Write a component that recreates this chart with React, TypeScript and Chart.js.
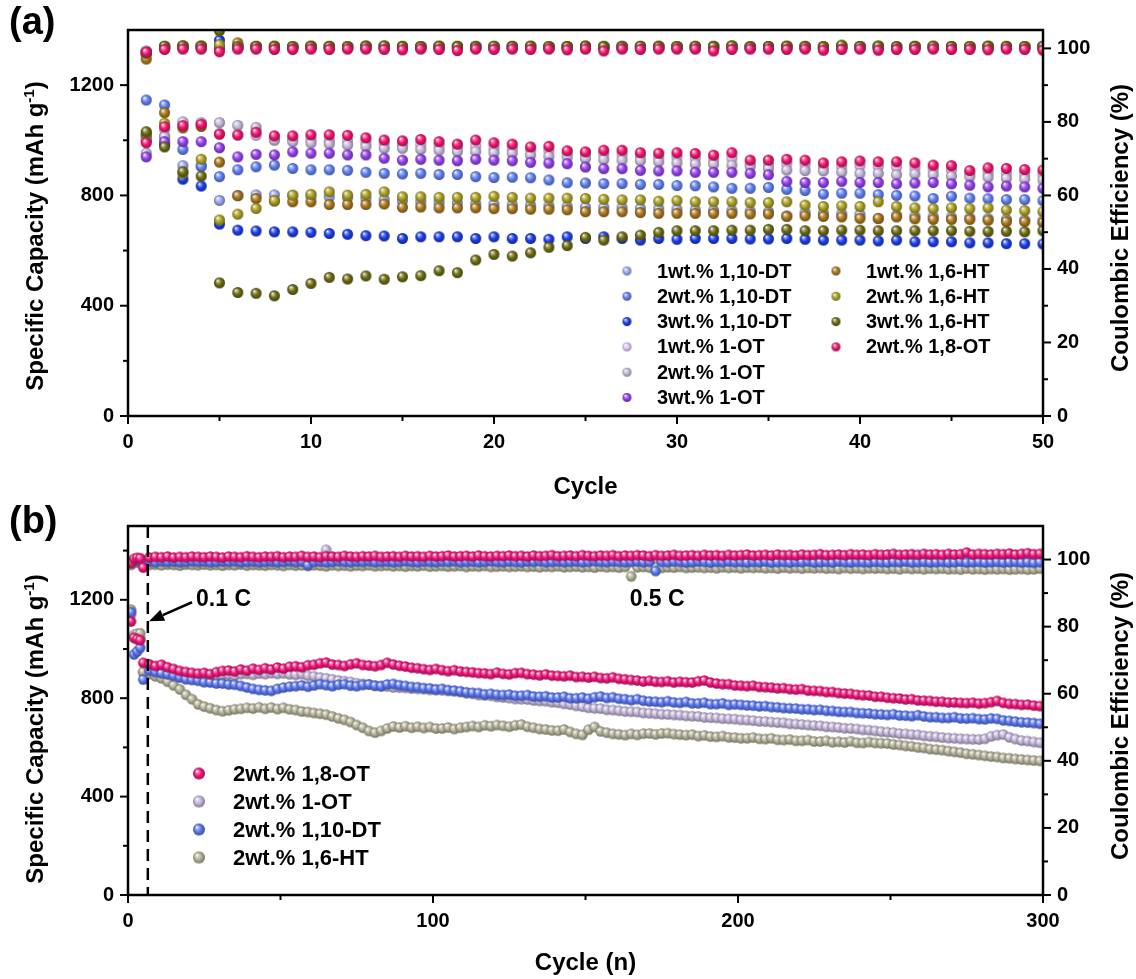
import React, { useEffect, useRef } from 'react';
import { Chart, registerables } from 'chart.js';

Chart.register(...registerables);

const FONT = '"Liberation Sans", Arial, Helvetica, sans-serif';
Chart.defaults.font.family = FONT;

// ================= Panel (a) data =================
const cyclesA = Array.from({ length: 50 }, (_, i) => i + 1);

const labelsA = [
  '1wt.% 1,10-DT', '2wt.% 1,10-DT', '3wt.% 1,10-DT',
  '1wt.% 1-OT', '2wt.% 1-OT', '3wt.% 1-OT',
  '1wt.% 1,6-HT', '2wt.% 1,6-HT', '3wt.% 1,6-HT', '2wt.% 1,8-OT',
];
const colorsA = [
  '#98a6f2', '#5f7ff2', '#1b3de8',
  '#e2c4f7', '#c4b8d8', '#9440ee',
  '#a8761c', '#aaa022', '#6b6a12', '#f2146e',
];

const capA_DT1 = [
  1013, 1013, 908, 908, 782, 800, 802, 802, 800, 798,
  795, 792, 788, 785, 780, 777, 775, 772, 770, 768,
  766, 764, 762, 760, 758, 757, 755, 753, 752, 750,
  748, 746, 745, 743, 741, 726, 738, 735, 733, 731,
  716, 728, 725, 723, 721, 719, 716, 713, 711, 708,
];
const capA_DT2 = [
  1146, 1128, 967, 905, 868, 893, 904, 910, 898, 893,
  893, 891, 884, 880, 878, 880, 876, 876, 868, 865,
  866, 864, 856, 846, 845, 843, 843, 840, 840, 836,
  835, 831, 826, 826, 829, 822, 818, 805, 808, 808,
  803, 800, 798, 789, 797, 790, 788, 785, 785, 781,
];
const capA_DT3 = [
  1000, 985, 859, 834, 696, 674, 671, 668, 668, 666,
  662, 659, 654, 653, 644, 650, 650, 650, 644, 650,
  644, 644, 641, 650, 644, 650, 644, 638, 644, 641,
  644, 644, 644, 642, 642, 644, 641, 638, 638, 638,
  635, 638, 632, 632, 632, 628, 628, 625, 625, 624,
];
const capA_OT1 = [
  1010, 1040, 1060, 1058, 1025, 1020, 1018, 1005, 1005, 1003,
  1000, 998, 995, 990, 985, 985, 980, 975, 978, 972,
  970, 965, 963, 955, 950, 950, 948, 943, 940, 940,
  935, 932, 935, 915, 913, 915, 912, 905, 905, 908,
  905, 903, 900, 895, 893, 880, 882, 880, 878, 876,
];
const capA_OT2 = [
  953, 1013, 1067, 1064, 1064, 1054, 1047, 1000, 995, 990,
  987, 983, 978, 971, 971, 967, 964, 959, 959, 955,
  953, 946, 942, 940, 934, 930, 928, 926, 922, 918,
  914, 914, 910, 906, 898, 892, 890, 889, 885, 880,
  880, 875, 878, 875, 870, 868, 866, 862, 860, 856,
];
const capA_OT3 = [
  940, 995, 995, 995, 973, 940, 949, 947, 958, 953,
  953, 947, 947, 935, 928, 931, 928, 926, 931, 928,
  926, 920, 917, 915, 903, 897, 897, 891, 889, 889,
  884, 884, 884, 880, 875, 851, 847, 847, 851, 847,
  847, 842, 845, 847, 842, 837, 831, 834, 831, 826,
];
const capA_HT1 = [
  1020, 1100, 1045, 1050, 921, 799, 789, 780, 777, 777,
  767, 767, 767, 769, 757, 758, 755, 755, 755, 752,
  752, 750, 750, 748, 741, 741, 741, 738, 735, 735,
  735, 735, 735, 733, 733, 724, 726, 724, 722, 717,
  717, 722, 715, 713, 713, 713, 710, 705, 705, 702,
];
const capA_HT2 = [
  1025, 1062, 880, 931, 711, 732, 753, 781, 801, 804,
  813, 801, 804, 813, 795, 795, 793, 793, 793, 797,
  793, 790, 790, 790, 789, 786, 784, 784, 779, 781,
  777, 777, 777, 774, 774, 777, 765, 760, 762, 760,
  777, 760, 755, 752, 755, 752, 755, 747, 745, 741,
];
const capA_HT3 = [
  1031, 976, 886, 870, 483, 448, 445, 436, 459, 481,
  503, 497, 508, 496, 505, 509, 527, 520, 566, 586,
  580, 592, 612, 618, 648, 638, 650, 656, 666, 672,
  672, 672, 674, 674, 677, 677, 672, 672, 674, 674,
  672, 672, 672, 672, 672, 670, 669, 670, 668, 672,
];
const capA_OT18 = [
  991, 1049, 1053, 1058, 1022, 1019, 1029, 1016, 1016, 1020,
  1020, 1018, 1009, 1001, 998, 1003, 995, 986, 1001, 991,
  986, 976, 978, 962, 958, 964, 964, 955, 953, 955,
  952, 946, 955, 928, 928, 931, 928, 918, 922, 925,
  922, 922, 918, 910, 908, 890, 900, 898, 894, 892,
];

const ceA_DT1 = [
  98.4, 100.3, 100.5, 100.4, 100.2, 100.4, 100.5, 100.3, 100.4, 100.5,
  100.4, 100.3, 100.5, 100.4, 100.3, 100.4, 100.5, 100.3, 100.4, 100.4,
  100.5, 100.3, 100.4, 100.5, 100.3, 100.4, 100.4, 100.5, 100.3, 100.4,
  100.5, 100.4, 100.3, 100.4, 100.5, 100.4, 100.3, 100.5, 100.4, 100.3,
  100.4, 100.5, 100.4, 100.3, 100.4, 100.5, 100.3, 100.4, 100.4, 100.3,
];
const ceA_DT2 = [
  98.8, 100.5, 100.6, 100.4, 100.1, 100.5, 100.4, 100.6, 100.5, 100.4,
  100.3, 100.5, 100.4, 100.6, 100.4, 100.3, 100.5, 100.4, 100.6, 100.3,
  100.4, 100.5, 100.3, 100.4, 100.6, 100.4, 100.3, 100.5, 100.4, 100.3,
  100.5, 100.4, 100.6, 100.3, 100.4, 100.5, 100.4, 100.3, 100.5, 100.4,
  100.6, 100.3, 100.4, 100.5, 100.3, 100.4, 100.5, 100.4, 100.3, 100.5,
];
const ceA_DT3 = [
  99.0, 100.4, 100.3, 100.5, 102.2, 100.6, 100.4, 100.5, 100.3, 100.4,
  100.5, 100.4, 100.6, 100.3, 100.4, 100.5, 100.3, 100.4, 100.5, 100.4,
  100.3, 100.5, 100.4, 100.3, 100.5, 100.4, 100.6, 100.4, 100.3, 100.5,
  100.4, 100.3, 100.5, 100.4, 100.3, 100.4, 100.5, 100.3, 100.4, 100.5,
  100.4, 100.3, 100.5, 100.4, 100.3, 100.5, 100.4, 100.3, 100.4, 100.5,
];
const ceA_OT1 = [
  99.2, 100.2, 100.4, 100.3, 100.2, 100.3, 100.4, 100.2, 100.3, 100.4,
  100.3, 100.2, 100.4, 100.3, 100.2, 100.4, 100.3, 100.2, 100.3, 100.4,
  100.2, 100.3, 100.4, 100.3, 100.2, 100.3, 100.4, 100.2, 100.3, 100.4,
  100.3, 100.2, 100.4, 100.3, 100.2, 100.3, 100.4, 100.3, 100.2, 100.4,
  100.3, 100.2, 100.3, 100.4, 100.2, 100.3, 100.4, 100.3, 100.2, 100.3,
];
const ceA_OT2 = [
  99.3, 100.3, 100.5, 100.4, 100.6, 100.4, 100.3, 100.5, 100.4, 100.3,
  100.4, 100.5, 100.3, 100.4, 100.5, 100.4, 100.3, 100.5, 100.4, 100.3,
  100.5, 100.4, 100.3, 100.4, 100.5, 100.3, 100.4, 100.5, 100.4, 100.3,
  100.4, 100.5, 100.3, 100.4, 100.5, 100.4, 100.3, 100.4, 100.5, 100.3,
  100.4, 100.5, 100.4, 100.3, 100.5, 100.4, 100.3, 100.4, 100.5, 100.4,
];
const ceA_OT3 = [
  98.8, 100.1, 100.3, 100.4, 100.2, 100.3, 100.4, 100.3, 100.2, 100.4,
  100.3, 100.4, 100.2, 100.3, 100.4, 100.3, 100.2, 100.4, 100.3, 100.2,
  100.4, 100.3, 100.2, 100.3, 100.4, 100.3, 100.2, 100.4, 100.3, 100.4,
  100.2, 100.3, 100.4, 100.3, 100.2, 100.4, 100.3, 100.2, 100.3, 100.4,
  100.3, 100.2, 100.4, 100.3, 100.4, 100.2, 100.3, 100.4, 100.3, 100.2,
];
const ceA_HT1 = [
  97.1, 100.3, 100.6, 100.7, 100.5, 101.5, 100.4, 100.5, 100.4, 100.6,
  100.5, 100.4, 100.6, 100.5, 100.4, 100.5, 100.6, 100.4, 100.5, 100.4,
  100.6, 100.5, 100.4, 100.5, 100.6, 100.4, 100.5, 100.4, 100.6, 100.5,
  100.4, 100.6, 100.5, 100.4, 100.5, 100.6, 100.4, 100.5, 100.6, 100.4,
  100.5, 100.4, 100.6, 100.5, 100.4, 100.5, 100.6, 100.4, 100.5, 100.4,
];
const ceA_HT2 = [
  98.6, 100.5, 100.4, 100.6, 101.0, 100.5, 100.4, 100.6, 100.5, 100.4,
  100.6, 100.5, 100.4, 100.5, 100.6, 100.4, 100.5, 100.6, 100.4, 100.5,
  100.4, 100.6, 100.5, 100.4, 100.5, 100.6, 100.5, 100.4, 100.6, 100.5,
  100.4, 100.5, 100.6, 100.4, 100.5, 100.4, 100.6, 100.5, 100.4, 100.5,
  100.6, 100.4, 100.5, 100.6, 100.4, 100.5, 100.4, 100.6, 100.5, 100.4,
];
const ceA_HT3 = [
  98.9, 100.6, 100.7, 100.5, 104.8, 100.4, 100.6, 100.5, 100.4, 100.6,
  100.5, 100.4, 100.6, 100.7, 100.5, 100.4, 100.6, 100.5, 100.4, 100.6,
  100.5, 100.6, 100.4, 100.5, 100.6, 100.5, 100.4, 100.6, 100.5, 100.4,
  100.6, 100.5, 100.7, 100.4, 100.5, 100.6, 100.5, 100.4, 100.9, 100.5,
  100.6, 100.4, 100.5, 100.6, 100.5, 100.4, 100.6, 100.5, 100.4, 100.6,
];
const ceA_OT18 = [
  99.0, 99.7, 99.8, 99.8, 99.1, 99.8, 99.8, 99.7, 99.7, 99.8,
  99.7, 99.8, 99.8, 99.7, 99.6, 99.8, 99.7, 99.4, 99.8, 99.7,
  99.8, 99.7, 99.8, 99.6, 99.8, 99.3, 99.8, 99.7, 99.8, 99.8,
  99.8, 99.3, 99.7, 99.8, 99.8, 99.7, 99.8, 99.5, 99.7, 99.8,
  99.5, 99.7, 99.7, 99.8, 99.7, 99.7, 99.6, 99.8, 99.7, 99.5,
];

const capA = [capA_DT1, capA_DT2, capA_DT3, capA_OT1, capA_OT2, capA_OT3, capA_HT1, capA_HT2, capA_HT3, capA_OT18];
const ceA = [ceA_DT1, ceA_DT2, ceA_DT3, ceA_OT1, ceA_OT2, ceA_OT3, ceA_HT1, ceA_HT2, ceA_HT3, ceA_OT18];

// ================= Panel (b) data =================
// cycles 1-4 at 0.1 C, then every second cycle 5..299 at 0.5 C
const cycleB = (i: number) => (i < 4 ? i + 1 : 5 + 2 * (i - 4));

const labelsB = ['2wt.% 1,8-OT', '2wt.% 1-OT', '2wt.% 1,10-DT', '2wt.% 1,6-HT'];
const colorsB = ['#f0167a', '#c2b4d8', '#5a76f2', '#b3b197'];

const capB01_OT18 = [1112, 1045, 1040, 1036];
const capB01_OT1 = [1140, 1058, 1052, 1045];
const capB01_DT110 = [1150, 978, 990, 1005];
const capB01_HT16 = [1160, 1050, 1062, 1064];

const capB05_OT18 = [
  944, 938, 931, 936, 926, 919, 911, 907, 903, 900,
  903, 898, 906, 911, 913, 909, 917, 912, 920, 915,
  922, 917, 925, 920, 928, 930, 926, 934, 936, 942,
  945, 937, 935, 931, 938, 942, 935, 933, 930, 935,
  944, 937, 932, 929, 924, 922, 918, 915, 919, 914,
  910, 914, 909, 907, 905, 902, 901, 898, 904, 899,
  897, 902, 903, 898, 896, 893, 897, 892, 891, 889,
  892, 886, 887, 884, 887, 882, 881, 885, 879, 877,
  874, 872, 868, 871, 867, 866, 869, 864, 867, 865,
  864, 869, 872, 864, 860, 857, 857, 852, 851, 849,
  851, 846, 845, 843, 840, 841, 837, 835, 837, 831,
  830, 829, 825, 825, 821, 819, 818, 814, 812, 811,
  806, 806, 802, 800, 799, 795, 796, 791, 790, 789,
  786, 786, 783, 783, 781, 780, 782, 778, 780, 784,
  789, 781, 777, 776, 773, 774, 770, 768,
];
const capB05_OT1 = [
  905, 915, 910, 906, 901, 898, 894, 890, 887, 889,
  892, 893, 889, 895, 896, 892, 898, 899, 895, 900,
  898, 902, 899, 901, 897, 895, 898, 891, 889, 884,
  881, 877, 872, 869, 866, 861, 858, 856, 851, 849,
  848, 844, 843, 842, 839, 838, 837, 834, 833, 832,
  830, 828, 825, 820, 818, 813, 811, 810, 805, 803,
  801, 797, 796, 795, 791, 789, 788, 784, 782, 777,
  774, 769, 766, 761, 759, 758, 753, 752, 749, 746,
  745, 744, 740, 739, 737, 735, 734, 732, 731, 728,
  727, 726, 722, 721, 720, 717, 716, 715, 712, 711,
  709, 706, 705, 703, 701, 700, 696, 695, 693, 691,
  689, 688, 684, 683, 681, 678, 677, 675, 671, 670,
  667, 664, 662, 660, 656, 655, 652, 651, 647, 645,
  643, 640, 638, 637, 635, 634, 633, 632, 635, 645,
  650, 652, 641, 634, 628, 626, 622, 619,
];
const capB05_DT110 = [
  876, 912, 906, 901, 897, 891, 884, 877, 874, 871,
  865, 864, 860, 860, 856, 855, 850, 844, 838, 834,
  832, 830, 838, 843, 847, 849, 852, 847, 852, 857,
  853, 849, 855, 857, 851, 849, 854, 856, 851, 849,
  856, 858, 853, 850, 846, 845, 841, 840, 836, 838,
  833, 831, 828, 824, 822, 821, 816, 818, 814, 813,
  815, 810, 810, 813, 807, 806, 808, 803, 803, 806,
  800, 800, 803, 798, 804, 807, 801, 804, 798, 796,
  792, 796, 790, 787, 786, 784, 788, 783, 781, 785,
  779, 779, 782, 776, 776, 779, 773, 775, 773, 771,
  770, 767, 768, 764, 763, 760, 759, 758, 755, 755,
  752, 753, 749, 748, 745, 744, 744, 740, 739, 738,
  735, 734, 732, 735, 730, 729, 727, 731, 726, 723,
  723, 720, 720, 723, 718, 717, 719, 715, 714, 718,
  716, 710, 708, 705, 702, 701, 699, 696,
];
const capB05_HT16 = [
  907, 898, 889, 881, 867, 852, 836, 814, 796, 775,
  766, 759, 752, 747, 751, 755, 757, 761, 758, 763,
  757, 762, 756, 761, 755, 752, 746, 744, 740, 737,
  733, 726, 718, 712, 703, 691, 680, 667, 660, 667,
  677, 685, 681, 686, 680, 684, 679, 683, 677, 677,
  681, 675, 680, 683, 687, 683, 690, 686, 691, 688,
  684, 690, 693, 684, 680, 675, 673, 669, 668, 673,
  663, 655, 651, 672, 683, 665, 660, 655, 653, 650,
  655, 651, 656, 657, 653, 657, 658, 654, 652, 650,
  652, 646, 649, 644, 643, 646, 641, 640, 637, 637,
  640, 635, 634, 637, 631, 630, 632, 627, 627, 630,
  624, 624, 627, 621, 623, 620, 625, 619, 618, 622,
  618, 617, 616, 612, 610, 606, 604, 600, 598, 593,
  591, 589, 585, 582, 579, 574, 572, 569, 566, 563,
  561, 557, 556, 553, 551, 549, 547, 545,
];

const ceB01_OT18 = [99.0, 100.2, 100.5, 100.4];
const ceB01_OT1 = [98.9, 99.8, 100.0, 100.1];
const ceB01_DT110 = [99.0, 99.6, 99.7, 99.8];
const ceB01_HT16 = [98.4, 99.0, 99.2, 99.1];

const ceB05_OT18 = [
  97.6, 100.6, 100.8, 100.7, 100.9, 100.6, 100.8, 100.7, 100.9, 100.8,
  100.7, 100.9, 100.8, 100.6, 100.9, 100.8, 100.7, 101.0, 100.8, 100.7,
  100.9, 100.8, 101.0, 100.7, 100.9, 100.8, 101.1, 100.8, 100.9, 100.7,
  101.0, 100.9, 100.8, 101.1, 100.9, 100.8, 101.0, 100.9, 101.1, 100.8,
  100.9, 101.0, 100.8, 101.1, 100.9, 101.0, 100.8, 101.1, 100.9, 101.0,
  101.2, 100.9, 101.0, 101.1, 100.9, 101.2, 101.0, 100.9, 101.1, 101.0,
  101.2, 101.0, 101.1, 100.9, 101.2, 101.0, 101.1, 101.3, 101.0, 101.1,
  101.2, 101.0, 101.3, 101.1, 101.0, 101.2, 101.1, 101.3, 101.0, 101.2,
  101.1, 101.3, 101.2, 101.0, 101.3, 101.1, 101.2, 101.4, 101.1, 101.2,
  101.3, 101.1, 101.4, 101.2, 101.3, 101.1, 101.4, 101.2, 101.3, 101.5,
  101.2, 101.3, 101.4, 101.2, 101.5, 101.3, 101.4, 101.2, 101.5, 101.3,
  101.4, 101.6, 101.3, 101.4, 101.5, 101.3, 101.6, 101.4, 101.5, 101.3,
  101.6, 101.4, 101.5, 101.7, 101.4, 101.5, 101.6, 101.4, 101.7, 101.5,
  101.6, 101.4, 101.7, 101.5, 101.6, 102.1, 101.5, 101.7, 101.6, 101.5,
  101.7, 101.6, 101.8, 101.5, 101.7, 101.9, 101.6, 101.7,
];
const ceB05_OT1 = [
  99.6, 99.8, 99.7, 99.9, 99.8, 99.7, 99.9, 99.8, 99.7, 99.9,
  99.8, 99.7, 99.9, 99.8, 99.6, 99.8, 99.9, 99.7, 99.8, 99.9,
  99.7, 99.8, 99.9, 99.7, 99.8, 99.6, 99.9, 99.8, 99.7, 99.9,
  102.9, 99.8, 99.7, 99.9, 99.8, 99.7, 99.8, 99.9, 99.7, 99.8,
  99.9, 99.7, 99.8, 99.6, 99.9, 99.8, 99.7, 99.9, 99.8, 99.7,
  99.8, 99.9, 99.7, 99.8, 99.6, 99.9, 99.8, 99.7, 99.8, 99.9,
  99.7, 99.8, 99.9, 99.7, 99.8, 99.6, 99.8, 99.9, 99.7, 99.8,
  99.9, 99.7, 99.8, 99.6, 99.8, 99.9, 99.7, 99.8, 99.7, 99.9,
  99.8, 99.7, 99.9, 99.8, 99.6, 99.8, 99.7, 99.9, 99.8, 99.7,
  99.8, 99.9, 99.7, 99.8, 99.6, 99.8, 99.9, 99.7, 99.8, 99.7,
  99.9, 99.8, 99.7, 99.8, 99.9, 99.6, 99.8, 99.7, 99.9, 99.8,
  99.7, 99.8, 99.9, 99.7, 99.8, 99.6, 99.9, 99.8, 99.7, 99.8,
  99.9, 99.7, 99.8, 99.6, 99.8, 99.9, 99.7, 99.8, 99.9, 99.7,
  99.8, 99.7, 99.9, 99.8, 99.6, 99.8, 99.9, 99.7, 99.8, 99.9,
  99.7, 99.8, 99.9, 99.7, 99.6, 99.8, 99.7, 100.2,
];
const ceB05_DT110 = [
  99.3, 99.4, 99.2, 99.5, 99.3, 99.4, 99.2, 99.3, 99.5, 99.3,
  99.4, 99.2, 99.3, 99.4, 99.3, 99.5, 99.2, 99.3, 99.4, 99.2,
  99.3, 99.4, 99.2, 99.3, 99.5, 99.2, 99.4, 98.3, 99.3, 99.4,
  99.2, 99.3, 99.5, 99.3, 99.2, 99.4, 99.3, 99.5, 99.2, 99.3,
  99.4, 99.2, 99.3, 99.5, 99.3, 99.2, 99.4, 99.3, 99.2, 99.4,
  99.3, 99.5, 99.2, 99.3, 99.4, 99.2, 99.3, 99.5, 99.3, 99.2,
  99.4, 99.3, 99.2, 99.4, 99.3, 99.5, 99.2, 99.3, 99.4, 99.2,
  99.3, 99.4, 99.2, 99.3, 99.5, 99.3, 99.2, 99.4, 99.3, 99.2,
  99.3, 99.4, 99.2, 99.3, 96.6, 99.3, 99.2, 99.4, 99.3, 99.1,
  99.2, 99.4, 99.3, 99.1, 99.3, 99.2, 99.4, 99.2, 99.3, 99.1,
  99.3, 99.2, 99.4, 99.1, 99.2, 99.3, 99.1, 99.3, 99.2, 99.4,
  99.1, 99.2, 99.3, 99.1, 99.4, 99.2, 99.1, 99.3, 99.2, 99.1,
  99.3, 99.2, 99.1, 99.3, 99.2, 99.4, 99.1, 99.2, 99.3, 99.1,
  99.2, 99.3, 99.1, 99.2, 99.4, 99.1, 99.2, 99.3, 99.1, 99.2,
  99.3, 99.1, 99.2, 99.3, 99.1, 99.2, 99.0, 99.2,
];
const ceB05_HT16 = [
  98.6, 98.4, 98.5, 98.3, 98.5, 98.4, 98.2, 98.5, 98.4, 98.3,
  98.5, 98.3, 98.4, 98.2, 98.4, 98.3, 98.5, 98.2, 98.4, 98.3,
  98.2, 98.4, 98.3, 98.1, 98.4, 98.2, 98.3, 98.1, 98.3, 98.2,
  98.0, 98.3, 98.1, 98.2, 98.0, 98.2, 98.1, 98.3, 98.0, 98.1,
  98.2, 98.0, 98.1, 97.9, 98.1, 98.0, 98.2, 97.9, 98.0, 98.1,
  97.9, 98.0, 98.1, 97.8, 98.0, 97.9, 98.1, 97.8, 97.9, 98.0,
  97.8, 97.9, 98.0, 97.8, 97.9, 97.7, 97.9, 97.8, 98.0, 97.7,
  97.8, 97.9, 97.7, 97.8, 97.6, 97.9, 97.7, 97.8, 97.6, 97.8,
  95.0, 97.7, 97.8, 97.6, 97.7, 97.5, 97.7, 97.6, 97.8, 97.5,
  97.6, 97.7, 97.5, 97.6, 97.4, 97.7, 97.5, 97.6, 97.4, 97.6,
  97.5, 97.6, 97.4, 97.5, 97.3, 97.6, 97.4, 97.5, 97.3, 97.5,
  97.4, 97.5, 97.3, 97.4, 97.2, 97.5, 97.3, 97.4, 97.2, 97.4,
  97.3, 97.4, 97.2, 97.3, 97.1, 97.4, 97.2, 97.3, 97.1, 97.3,
  97.2, 97.3, 97.1, 97.2, 97.0, 97.3, 97.1, 97.2, 97.0, 97.2,
  97.1, 97.2, 97.0, 97.1, 97.2, 97.0, 97.1, 97.3,
];

const capB = [
  [capB01_OT18, capB05_OT18], [capB01_OT1, capB05_OT1],
  [capB01_DT110, capB05_DT110], [capB01_HT16, capB05_HT16],
];
const ceB = [
  [ceB01_OT18, ceB05_OT18], [ceB01_OT1, ceB05_OT1],
  [ceB01_DT110, ceB05_DT110], [ceB01_HT16, ceB05_HT16],
];
// draw order (0 = on top)
const orderB = [0, 3, 1, 2];

// ================= helpers =================
function shade(hex: string, t: number) {
  const n = parseInt(hex.slice(1), 16);
  let r = (n >> 16) & 255, g = (n >> 8) & 255, b = n & 255;
  const target = t > 0 ? 255 : 0;
  const k = Math.abs(t);
  r = Math.round(r + (target - r) * k);
  g = Math.round(g + (target - g) * k);
  b = Math.round(b + (target - b) * k);
  return `rgb(${r},${g},${b})`;
}

function makeBall(color: string, r: number) {
  const s = Math.ceil(r * 2) + 2;
  const c = document.createElement('canvas');
  c.width = s;
  c.height = s;
  const ctx = c.getContext('2d')!;
  const cx = s / 2, cy = s / 2;
  const g = ctx.createRadialGradient(cx - r * 0.38, cy - r * 0.42, r * 0.05, cx, cy, r);
  g.addColorStop(0, '#ffffff');
  g.addColorStop(0.2, shade(color, 0.5));
  g.addColorStop(0.55, color);
  g.addColorStop(1, shade(color, -0.35));
  ctx.fillStyle = g;
  ctx.beginPath();
  ctx.arc(cx, cy, r, 0, Math.PI * 2);
  ctx.fill();
  return c;
}

const tickFont = { family: FONT, size: 20, weight: 'bold' as const };

type LegendItem = { label: string; color: string; x: number; y: number };

function decorPlugin(cfg: any) {
  return {
    id: 'decor' + cfg.key,
    afterDatasetsDraw(chart: any) {
      if (cfg.annotate) cfg.annotate(chart);
    },
    afterDraw(chart: any) {
      const { ctx, chartArea: ca, scales } = chart;
      ctx.save();
      // frame
      ctx.strokeStyle = '#000';
      ctx.lineWidth = 2.5;
      ctx.strokeRect(ca.left, ca.top, ca.right - ca.left, ca.bottom - ca.top);
      // ticks
      ctx.lineWidth = 2;
      const drawTicks = (scale: any, major: number, side: string) => {
        scale.ticks.forEach((t: any) => {
          const v = t.value;
          if (side !== 'bottom' && v >= scale.max - 1e-6) return;
          const q = v / major;
          const isMajor = Math.abs(q - Math.round(q)) < 1e-6;
          const len = isMajor ? 8 : 5;
          const p = scale.getPixelForValue(v);
          ctx.beginPath();
          if (side === 'bottom') {
            ctx.moveTo(p, ca.bottom);
            ctx.lineTo(p, ca.bottom + len);
          } else if (side === 'left') {
            ctx.moveTo(ca.left, p);
            ctx.lineTo(ca.left - len, p);
          } else {
            ctx.moveTo(ca.right, p);
            ctx.lineTo(ca.right + len, p);
          }
          ctx.stroke();
        });
      };
      drawTicks(scales.x, cfg.xMajor, 'bottom');
      drawTicks(scales.y, cfg.yMajor, 'left');
      drawTicks(scales.y2, cfg.y2Major, 'right');

      ctx.fillStyle = '#000';
      // x title
      ctx.font = `bold 24px ${FONT}`;
      ctx.textAlign = 'center';
      ctx.textBaseline = 'middle';
      ctx.fillText(cfg.xTitle, (ca.left + ca.right) / 2, cfg.xTitleY);

      // left title with superscript
      ctx.save();
      ctx.translate(35, cfg.leftTitleY);
      ctx.rotate(-Math.PI / 2);
      const big = `bold 24px ${FONT}`;
      const small = `bold 15px ${FONT}`;
      const parts: [string, string, number][] = [
        ['Specific Capacity (mAh g', big, 0],
        ['-1', small, -9],
        [')', big, 0],
      ];
      let total = 0;
      parts.forEach(([t, f]) => { ctx.font = f; total += ctx.measureText(t).width; });
      let xx = -total / 2;
      ctx.textAlign = 'left';
      ctx.textBaseline = 'alphabetic';
      parts.forEach(([t, f, dy]) => {
        ctx.font = f;
        ctx.fillText(t, xx, 8 + dy);
        xx += ctx.measureText(t).width;
      });
      ctx.restore();

      // right title
      ctx.save();
      ctx.translate(1121, cfg.rightTitleY);
      ctx.rotate(-Math.PI / 2);
      ctx.font = big;
      ctx.textAlign = 'center';
      ctx.textBaseline = 'middle';
      ctx.fillText('Coulombic Efficiency (%)', 0, 0);
      ctx.restore();

      // panel label
      ctx.font = `bold 38px ${FONT}`;
      ctx.textAlign = 'left';
      ctx.textBaseline = 'alphabetic';
      ctx.fillText(cfg.panel, 9, cfg.panelY);

      // legend
      ctx.font = `bold ${cfg.legendSize}px ${FONT}`;
      ctx.textBaseline = 'middle';
      cfg.legend.forEach((it: LegendItem) => {
        const img = makeBall(it.color, cfg.legendR);
        ctx.drawImage(img, it.x - img.width / 2, it.y - img.height / 2);
        ctx.fillText(it.label, it.x + cfg.legendGap, it.y + 1);
      });
      ctx.restore();
    },
  };
}

function baseScales(xMax: number, xStep: number, xMajor: number, yMax: number, y2Max: number) {
  return {
    x: {
      type: 'linear', position: 'bottom', min: 0, max: xMax,
      grid: { display: false, drawTicks: false }, border: { display: false },
      ticks: {
        stepSize: xStep, autoSkip: false, maxRotation: 0, padding: 14, color: '#000', font: tickFont,
        includeBounds: false,
        callback: (v: number) => (Math.abs(v / xMajor - Math.round(v / xMajor)) < 1e-6 ? String(v) : ''),
      },
      afterFit: (s: any) => { s.height = 84; },
    },
    y: {
      type: 'linear', position: 'left', min: 0, max: yMax,
      grid: { display: false, drawTicks: false }, border: { display: false },
      ticks: {
        stepSize: 200, autoSkip: false, padding: 14, color: '#000', font: tickFont, includeBounds: false,
        callback: (v: number) => (Math.round(v) % 400 === 0 ? String(v) : ''),
      },
      afterFit: (s: any) => { s.width = 128; },
    },
    y2: {
      type: 'linear', position: 'right', min: 0, max: y2Max,
      grid: { display: false, drawTicks: false }, border: { display: false },
      ticks: {
        stepSize: 10, autoSkip: false, padding: 14, color: '#000', font: tickFont, includeBounds: false,
        callback: (v: number) => (Math.round(v) % 20 === 0 && v <= 100 ? String(v) : ''),
      },
      afterFit: (s: any) => { s.width = 93; },
    },
  };
}

export default function App() {
  const refA = useRef<HTMLCanvasElement>(null);
  const refB = useRef<HTMLCanvasElement>(null);

  useEffect(() => {
    // ---------- chart (a) ----------
    const dsA: any[] = [];
    capA.forEach((arr, i) => {
      const img = makeBall(colorsA[i], 5.5);
      const ord = (9 - i) * 2;
      dsA.push({
        label: labelsA[i], yAxisID: 'y', order: ord, pointStyle: img, pointRadius: 5.5,
        data: arr.map((v, k) => ({ x: cyclesA[k], y: v })),
      });
      dsA.push({
        label: labelsA[i] + ' CE', yAxisID: 'y2', order: ord + 1, pointStyle: img, pointRadius: 5.5,
        data: ceA[i].map((v, k) => ({ x: cyclesA[k], y: v })),
      });
    });
    const legendA: LegendItem[] = labelsA.map((l, i) => {
      const col = i < 6 ? 0 : 1;
      const row = i < 6 ? i : i - 6;
      return { label: l, color: colorsA[i], x: col === 0 ? 627 : 836, y: 271 + 25.3 * row };
    });
    const chartA = new Chart(refA.current!, {
      type: 'scatter',
      data: { datasets: dsA },
      plugins: [decorPlugin({
        key: 'A', xMajor: 10, yMajor: 400, y2Major: 20, xTitle: 'Cycle', xTitleY: 487,
        leftTitleY: 236, rightTitleY: 228, panel: '(a)', panelY: 34,
        legend: legendA, legendR: 4.5, legendGap: 30, legendSize: 20,
      })],
      options: {
        animation: false, responsive: false, events: [],
        layout: { padding: { top: 30, left: 0, right: 0, bottom: 0 } },
        plugins: { legend: { display: false }, tooltip: { enabled: false } },
        elements: { point: { borderWidth: 0 } },
        scales: baseScales(50, 5, 10, 1400, 105) as any,
      },
    });

    // ---------- chart (b) ----------
    const dsB: any[] = [];
    capB.forEach((pair, i) => {
      const img = makeBall(colorsB[i], 5.2);
      const ord = orderB[i] * 2;
      const cap = [...pair[0], ...pair[1]];
      const ce = [...ceB[i][0], ...ceB[i][1]];
      dsB.push({
        label: labelsB[i], yAxisID: 'y', order: ord, pointStyle: img, pointRadius: 5.2,
        data: cap.map((v, k) => ({ x: cycleB(k), y: v })),
      });
      dsB.push({
        label: labelsB[i] + ' CE', yAxisID: 'y2', order: ord + 1, pointStyle: img, pointRadius: 5.2,
        data: ce.map((v, k) => ({ x: cycleB(k), y: v })),
      });
    });
    const legendB: LegendItem[] = labelsB.map((l, i) => ({
      label: l, color: colorsB[i], x: 199, y: 273.5 + 28 * i,
    }));
    const annotateB = (chart: any) => {
      const { ctx, chartArea: ca, scales } = chart;
      const x = scales.x, y = scales.y;
      ctx.save();
      // dashed separator between 0.1 C and 0.5 C
      const xd = x.getPixelForValue(6.5);
      ctx.strokeStyle = '#000';
      ctx.lineWidth = 2.5;
      ctx.setLineDash([12, 7]);
      ctx.beginPath();
      ctx.moveTo(xd, ca.top);
      ctx.lineTo(xd, ca.bottom);
      ctx.stroke();
      ctx.setLineDash([]);
      // arrow
      const x1 = x.getPixelForValue(21), y1 = y.getPixelForValue(1190);
      const x2 = x.getPixelForValue(6.9), y2 = y.getPixelForValue(1113);
      const ang = Math.atan2(y2 - y1, x2 - x1);
      const hl = 15, hw = 6;
      const bx = x2 - hl * Math.cos(ang), by = y2 - hl * Math.sin(ang);
      ctx.lineWidth = 2.5;
      ctx.beginPath();
      ctx.moveTo(x1, y1);
      ctx.lineTo(bx, by);
      ctx.stroke();
      ctx.fillStyle = '#000';
      ctx.beginPath();
      ctx.moveTo(x2, y2);
      ctx.lineTo(bx + hw * Math.sin(ang), by - hw * Math.cos(ang));
      ctx.lineTo(bx - hw * Math.sin(ang), by + hw * Math.cos(ang));
      ctx.closePath();
      ctx.fill();
      // rate labels
      ctx.font = `bold 23px ${FONT}`;
      ctx.textBaseline = 'middle';
      ctx.textAlign = 'left';
      ctx.fillText('0.1 C', x.getPixelForValue(22.3), y.getPixelForValue(1199));
      ctx.textAlign = 'center';
      ctx.fillText('0.5 C', x.getPixelForValue(173.5), y.getPixelForValue(1199));
      ctx.restore();
    };
    const chartB = new Chart(refB.current!, {
      type: 'scatter',
      data: { datasets: dsB },
      plugins: [decorPlugin({
        key: 'B', xMajor: 100, yMajor: 400, y2Major: 20, xTitle: 'Cycle (n)', xTitleY: 463,
        leftTitleY: 229, rightTitleY: 216, panel: '(b)', panelY: 33,
        legend: legendB, legendR: 6, legendGap: 34, legendSize: 22, annotate: annotateB,
      })],
      options: {
        animation: false, responsive: false, events: [],
        layout: { padding: { top: 8, left: 0, right: 0, bottom: 0 } },
        plugins: { legend: { display: false }, tooltip: { enabled: false } },
        elements: { point: { borderWidth: 0 } },
        scales: baseScales(300, 50, 100, 1500, 110) as any,
      },
    });

    return () => {
      chartA.destroy();
      chartB.destroy();
    };
  }, []);

  return (
    <div style={{ position: 'fixed', left: 0, top: 0, width: 1136, height: 979, background: '#fff' }}>
      <canvas ref={refA} width={1136} height={500}
        style={{ position: 'absolute', left: 0, top: 0, width: 1136, height: 500 }} />
      <canvas ref={refB} width={1136} height={479}
        style={{ position: 'absolute', left: 0, top: 500, width: 1136, height: 479 }} />
    </div>
  );
}
